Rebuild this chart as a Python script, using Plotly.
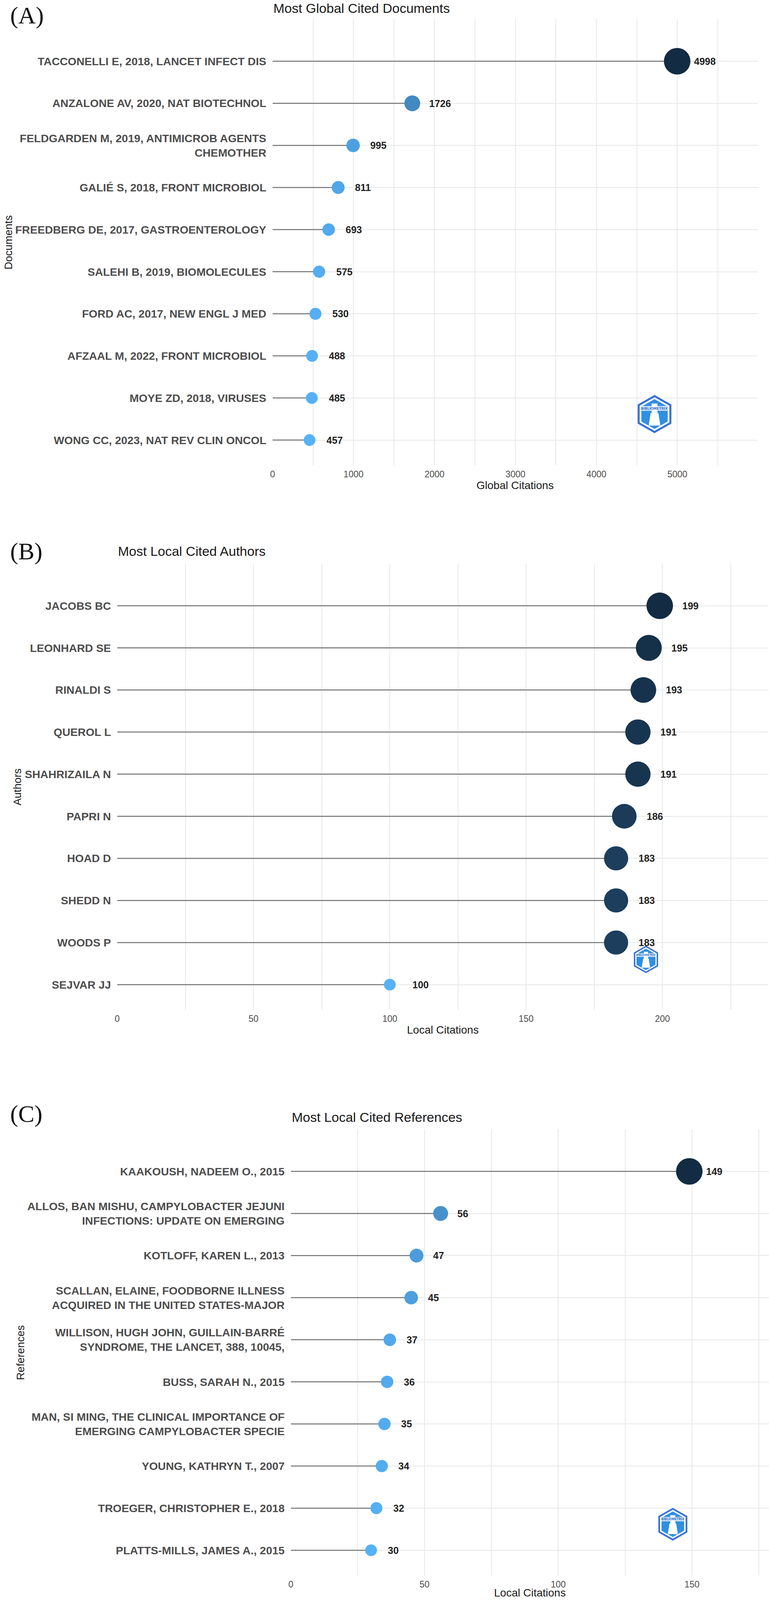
import math
import plotly.graph_objects as go

# ---- data ----
doc_labels = [
    "TACCONELLI E, 2018, LANCET INFECT DIS",
    "ANZALONE AV, 2020, NAT BIOTECHNOL",
    "FELDGARDEN M, 2019, ANTIMICROB AGENTS<br>CHEMOTHER",
    "GALIÉ S, 2018, FRONT MICROBIOL",
    "FREEDBERG DE, 2017, GASTROENTEROLOGY",
    "SALEHI B, 2019, BIOMOLECULES",
    "FORD AC, 2017, NEW ENGL J MED",
    "AFZAAL M, 2022, FRONT MICROBIOL",
    "MOYE ZD, 2018, VIRUSES",
    "WONG CC, 2023, NAT REV CLIN ONCOL",
]
doc_cites = [4998, 1726, 995, 811, 693, 575, 530, 488, 485, 457]

author_labels = [
    "JACOBS BC", "LEONHARD SE", "RINALDI S", "QUEROL L", "SHAHRIZAILA N",
    "PAPRI N", "HOAD D", "SHEDD N", "WOODS P", "SEJVAR JJ",
]
author_cites = [199, 195, 193, 191, 191, 186, 183, 183, 183, 100]

ref_labels = [
    "KAAKOUSH, NADEEM O., 2015",
    "ALLOS, BAN MISHU, CAMPYLOBACTER JEJUNI<br>INFECTIONS: UPDATE ON EMERGING",
    "KOTLOFF, KAREN L., 2013",
    "SCALLAN, ELAINE, FOODBORNE ILLNESS<br>ACQUIRED IN THE UNITED STATES-MAJOR",
    "WILLISON, HUGH JOHN, GUILLAIN-BARRÉ<br>SYNDROME, THE LANCET, 388, 10045,",
    "BUSS, SARAH N., 2015",
    "MAN, SI MING, THE CLINICAL IMPORTANCE OF<br>EMERGING CAMPYLOBACTER SPECIE",
    "YOUNG, KATHRYN T., 2007",
    "TROEGER, CHRISTOPHER E., 2018",
    "PLATTS-MILLS, JAMES A., 2015",
]
ref_cites = [149, 56, 47, 45, 37, 36, 35, 34, 32, 30]

W, H = 1969, 4181
SANS = "Liberation Sans, Arial, sans-serif"


def px_x(p):
    return p / W


def px_y(p):
    return 1 - p / H


# ggplot-like gradient (interpolated in Lab)
def hex_to_lab(h):
    lin = lambda c: c / 12.92 if c <= 0.04045 else ((c + 0.055) / 1.055) ** 2.4
    r, g, b = [lin(int(h[i:i + 2], 16) / 255) for i in (1, 3, 5)]
    X = (0.4124564 * r + 0.3575761 * g + 0.1804375 * b) / 0.95047
    Y = 0.2126729 * r + 0.7151522 * g + 0.0721750 * b
    Z = (0.0193339 * r + 0.1191920 * g + 0.9503041 * b) / 1.08883
    f = lambda t: t ** (1 / 3) if t > 0.008856 else 7.787 * t + 16 / 116
    fx, fy, fz = f(X), f(Y), f(Z)
    return (116 * fy - 16, 500 * (fx - fy), 200 * (fy - fz))


def lab_to_hex(L, a, b):
    fy = (L + 16) / 116
    fx, fz = fy + a / 500, fy - b / 200
    finv = lambda t: t ** 3 if t ** 3 > 0.008856 else (t - 16 / 116) / 7.787
    X, Y, Z = finv(fx) * 0.95047, finv(fy), finv(fz) * 1.08883
    r = 3.2404542 * X - 1.5371385 * Y - 0.4985314 * Z
    g = -0.9692660 * X + 1.8760108 * Y + 0.0415560 * Z
    bb = 0.0556434 * X - 0.2040259 * Y + 1.0572252 * Z
    gam = lambda c: 12.92 * c if c <= 0.0031308 else 1.055 * c ** (1 / 2.4) - 0.055
    return "#%02x%02x%02x" % tuple(round(max(0, min(1, gam(c))) * 255) for c in (r, g, bb))


DARK = hex_to_lab("#132B43")
LIGHT = hex_to_lab("#56B1F7")


def ramp(t):
    return lab_to_hex(*[d + (l - d) * t for d, l in zip(DARK, LIGHT)])


def hexagon(cx, cy, r):
    pts = []
    for k in range(6):
        ang = math.radians(90 + 60 * k)
        pts.append((cx + r * math.cos(ang), cy - r * math.sin(ang)))
    return "M " + " L ".join(f"{px_x(x):.5f},{px_y(y):.5f}" for x, y in pts) + " Z"


panels = [
    dict(letter="(A)", title="Most Global Cited Documents", xtitle="Global Citations",
         ytitle="Documents", labels=doc_labels, values=doc_cites,
         x0=694, x1=1941, top=50, bottom=1216, dtick=1000, minor=500,
         letter_y=40, title_y=21, xtitle_y=1268, ytitle_x=15,
         logo=(1675, 1082, 50)),
    dict(letter="(B)", title="Most Local Cited Authors", xtitle="Local Citations",
         ytitle="Authors", labels=author_labels, values=author_cites,
         x0=295, x1=1967, top=1473, bottom=2639, dtick=50, minor=25,
         letter_y=1441, title_y=1440, xtitle_y=2691, ytitle_x=38,
         logo=(1653, 2507, 36)),
    dict(letter="(C)", title="Most Local Cited References", xtitle="Local Citations",
         ytitle="References", labels=ref_labels, values=ref_cites,
         x0=741, x1=1969, top=2951, bottom=4117, dtick=50, minor=25,
         letter_y=2911, title_y=2919, xtitle_y=4162, ytitle_x=46,
         logo=(1722, 3983, 43)),
]

fig = go.Figure()
annotations = []
shapes = []

for i, p in enumerate(panels, start=1):
    xa = "x" if i == 1 else f"x{i}"
    ya = "y" if i == 1 else f"y{i}"
    labels, values = p["labels"], p["values"]
    vmax, vmin = max(values), min(values)

    seg_x, seg_y = [], []
    for lab, v in zip(labels, values):
        seg_x += [0, v, None]
        seg_y += [lab, lab, None]
    fig.add_trace(go.Scatter(
        x=seg_x, y=seg_y, mode="lines", xaxis=xa, yaxis=ya,
        line=dict(color="#707070", width=2.5), hoverinfo="skip", showlegend=False,
    ))

    t = [(v - vmin) / (vmax - vmin) for v in values]
    fig.add_trace(go.Scatter(
        x=values, y=labels, mode="markers", xaxis=xa, yaxis=ya,
        marker=dict(size=[30 + 38 * s for s in t], color=[ramp(1 - s) for s in t],
                    opacity=1, line=dict(width=0)),
        showlegend=False,
    ))

    for lab, v in zip(labels, values):
        annotations.append(dict(
            x=v + 0.04 * vmax, y=lab, xref=xa, yref=ya, text=str(v), showarrow=False,
            xanchor="left", yanchor="middle",
            font=dict(family=SANS, size=25, color="#222222", weight="bold"),
        ))

    axis_suffix = "" if i == 1 else str(i)
    fig.update_layout({
        f"xaxis{axis_suffix}": dict(
            domain=[px_x(p["x0"]), px_x(p["x1"])], anchor=ya,
            range=[0, 1.2 * vmax], tick0=0, dtick=p["dtick"],
            showgrid=True, gridcolor="#e8e8e8", gridwidth=1.5,
            minor=dict(dtick=p["minor"], showgrid=True, gridcolor="#e8e8e8", gridwidth=1.5),
            zeroline=False, showline=False, ticks="", ticklabelstandoff=7,
            ticklabeloverflow="allow",
            tickfont=dict(family=SANS, size=23, color="#4d4d4d"),
        ),
        f"yaxis{axis_suffix}": dict(
            domain=[px_y(p["bottom"]), px_y(p["top"])], anchor=xa,
            type="category", categoryorder="array", categoryarray=labels,
            range=[len(labels) - 0.4, -1],
            showgrid=True, gridcolor="#e8e8e8", gridwidth=1.5,
            zeroline=False, showline=False, ticks="", ticklabelstandoff=15,
            ticklabeloverflow="allow",
            tickfont=dict(family=SANS, size=28.5, color="#4d4d4d", weight="bold"),
        ),
    })

    # panel letter, title, axis titles
    annotations.append(dict(
        x=px_x(18), y=px_y(p["letter_y"]), xref="paper", yref="paper", text=p["letter"],
        showarrow=False, xanchor="left", yanchor="middle",
        font=dict(family="Liberation Serif, Times New Roman, serif", size=62, color="#111111"),
    ))
    annotations.append(dict(
        x=px_x(p["x0"]), y=px_y(p["title_y"]), xref="paper", yref="paper", text=p["title"],
        showarrow=False, xanchor="left", yanchor="middle",
        font=dict(family=SANS, size=34, color="#1a1a1a"),
    ))
    annotations.append(dict(
        x=px_x((p["x0"] + p["x1"]) / 2), y=px_y(p["xtitle_y"]), xref="paper", yref="paper",
        text=p["xtitle"], showarrow=False, xanchor="center", yanchor="middle",
        font=dict(family=SANS, size=28, color="#1a1a1a"),
    ))
    annotations.append(dict(
        x=px_x(p["ytitle_x"]), y=px_y((p["top"] + p["bottom"]) / 2), xref="paper", yref="paper",
        text=p["ytitle"], textangle=-90, showarrow=False, xanchor="center", yanchor="middle",
        font=dict(family=SANS, size=27.5, color="#1a1a1a"),
    ))

    # bibliometrix-style badge
    cx, cy, r = p["logo"]
    shapes.append(dict(type="path", xref="paper", yref="paper", path=hexagon(cx, cy, r),
                       fillcolor="#3a73d6", line=dict(width=0), layer="above"))
    shapes.append(dict(type="path", xref="paper", yref="paper", path=hexagon(cx, cy, r * 0.88),
                       fillcolor="white", line=dict(width=0), layer="above"))
    shapes.append(dict(type="path", xref="paper", yref="paper", path=hexagon(cx, cy, r * 0.78),
                       fillcolor="#2f8fe0", line=dict(width=0), layer="above"))
    shapes.append(dict(type="rect", xref="paper", yref="paper",
                       x0=px_x(cx - r * 0.15), x1=px_x(cx + r * 0.15),
                       y0=px_y(cy - r * 0.05), y1=px_y(cy - r * 0.55),
                       fillcolor="white", line=dict(width=0), layer="above"))
    shapes.append(dict(type="path", xref="paper", yref="paper",
                       path=(f"M {px_x(cx - r * 0.2):.5f},{px_y(cy - r * 0.05):.5f} "
                             f"L {px_x(cx + r * 0.2):.5f},{px_y(cy - r * 0.05):.5f} "
                             f"L {px_x(cx + r * 0.3):.5f},{px_y(cy + r * 0.6):.5f} "
                             f"L {px_x(cx - r * 0.3):.5f},{px_y(cy + r * 0.6):.5f} Z"),
                       fillcolor="white", line=dict(width=0), layer="above"))
    annotations.append(dict(
        x=px_x(cx), y=px_y(cy - r * 0.3), xref="paper", yref="paper", text="BIBLIOMETRIX",
        showarrow=False, xanchor="center", yanchor="middle", bgcolor="rgba(255,255,255,0.85)",
        borderpad=0,
        font=dict(family="DejaVu Sans Condensed, " + SANS, size=r * 0.19, color="#2f6fd0",
                  weight="bold"),
    ))

fig.update_layout(
    width=W, height=H,
    margin=dict(l=0, r=0, t=0, b=0),
    paper_bgcolor="white", plot_bgcolor="white",
    annotations=annotations, shapes=shapes,
    showlegend=False,
)

# fit the figure to the actual viewport so nothing spills past the window
fit_js = (
    "document.body.style.margin='0';"
    "document.documentElement.style.overflow='hidden';"
    "var gd=document.getElementById('{plot_id}');"
    "Plotly.relayout(gd,{width:window.innerWidth,height:window.innerHeight});"
)
fig.write_html("out.html", config={"displayModeBar": False}, post_script=fit_js)
